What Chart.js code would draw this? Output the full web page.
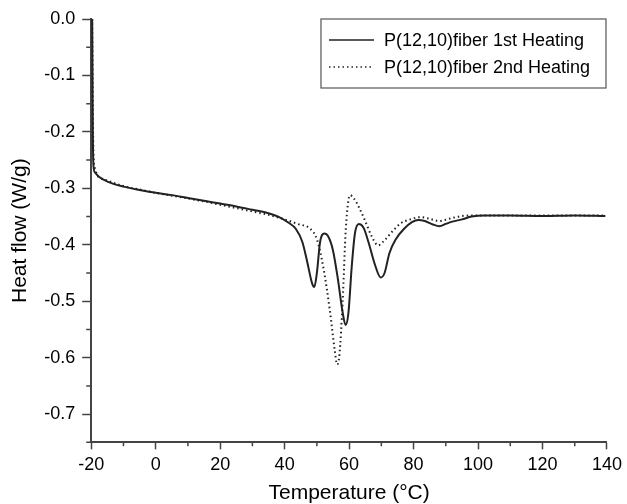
<!DOCTYPE html>
<html lang="en">
<head>
    <meta charset="UTF-8">
    <title>DSC Heat Flow</title>
    <script src="https://cdn.jsdelivr.net/npm/chart.js"></script>
    <style>
        body {
            margin: 0;
            background: #fff;
        }
        .chart-container {
            width: 627px;
            height: 504px;
        }
    </style>
</head>
<body>
    <div class="chart-container">
        <canvas id="dscChart"></canvas>
    </div>

    <script>
        // 1st heating
        const temp1 = [-19.7, -19.6, -19.5, -19.3, -18.8, -17.5, -15, -10, -5, 0, 5, 10, 15, 20, 25, 30, 35, 38, 41, 43.5,
            45.5, 47, 48.5, 49.2, 50, 51, 52.3, 53.5, 55, 56.5, 58, 58.9, 59.8, 60.8, 61.8, 63, 64.5, 66, 68, 69.8,
            71, 72.5, 74.5, 77, 79.5, 81.5, 83.5, 86, 88, 90, 92, 95, 98, 102, 110, 120, 130, 139.5];
        const flow1 = [0.0, -0.1, -0.2, -0.26, -0.272, -0.28, -0.288, -0.297, -0.303, -0.308, -0.312, -0.317, -0.322, -0.327, -0.332, -0.338, -0.344, -0.35, -0.36, -0.372,
            -0.395, -0.43, -0.468, -0.475, -0.45, -0.395, -0.38, -0.385, -0.41, -0.46, -0.52, -0.542, -0.52, -0.44, -0.38, -0.363, -0.37, -0.395, -0.435, -0.458,
            -0.45, -0.415, -0.39, -0.372, -0.36, -0.356, -0.358, -0.364, -0.367, -0.363, -0.359, -0.355, -0.35, -0.348, -0.348, -0.349, -0.348, -0.349];

        // 2nd heating
        const temp2 = [-19.7, -19.5, -19.3, -18.8, -18, -16, -10, -5, 0, 5, 10, 15, 20, 25, 30, 35, 40, 44, 48, 50,
            52, 54, 55.5, 56.3, 57, 58, 59, 60.3, 61.5, 63, 65, 67, 69, 71, 73.5, 76, 79, 82, 85, 88,
            91, 95, 100, 110, 120, 130, 139.5];
        const flow2 = [0.0, -0.15, -0.24, -0.265, -0.278, -0.284, -0.296, -0.302, -0.308, -0.313, -0.318, -0.323, -0.329, -0.335, -0.341, -0.347, -0.355, -0.363, -0.372, -0.39,
            -0.44, -0.515, -0.585, -0.612, -0.595, -0.5, -0.37, -0.312, -0.318, -0.333, -0.358, -0.385, -0.401, -0.392, -0.376, -0.362, -0.355, -0.351, -0.354, -0.358,
            -0.354, -0.349, -0.348, -0.348, -0.348, -0.348, -0.348];

        const labels = ['P(12,10)fiber 1st Heating', 'P(12,10)fiber 2nd Heating'];
        const yTicks = [-0.7, -0.6, -0.5, -0.4, -0.3, -0.2, -0.1, 0];

        const toPoints = (xs, ys) => xs.map((x, i) => ({ x: x, y: ys[i] }));
        const FONT = 'Liberation Sans, Arial, sans-serif';

        // minor tick marks on both axes
        const minorTicks = {
            id: 'minorTicks',
            afterDraw(chart) {
                const ctx = chart.ctx;
                const xs = chart.scales.x, ys = chart.scales.y;
                ctx.save();
                ctx.strokeStyle = '#444';
                ctx.lineWidth = 1.5;
                ctx.beginPath();
                for (let t = -20; t <= 140; t += 10) {
                    if (t % 20 === 0) continue;
                    const px = xs.getPixelForValue(t);
                    ctx.moveTo(px, ys.bottom);
                    ctx.lineTo(px, ys.bottom + 4);
                }
                for (let k = -15; k <= 0; k++) {
                    if (k % 2 === 0) continue;
                    const py = ys.getPixelForValue(k * 0.05);
                    ctx.moveTo(xs.left, py);
                    ctx.lineTo(xs.left - 5, py);
                }
                ctx.stroke();
                ctx.restore();
            }
        };

        // boxed legend in the top right corner
        const boxLegend = {
            id: 'boxLegend',
            afterDraw(chart) {
                const ctx = chart.ctx;
                const area = chart.chartArea;
                const right = area.right - 1, top = area.top;
                const left = right - 285, h = 69;
                ctx.save();
                ctx.strokeStyle = '#555';
                ctx.lineWidth = 1.2;
                ctx.strokeRect(left, top, right - left, h);
                ctx.font = '18px ' + FONT;
                ctx.textBaseline = 'middle';
                chart.data.datasets.forEach((ds, i) => {
                    const y = top + 21 + i * 27;
                    ctx.strokeStyle = ds.borderColor;
                    ctx.lineWidth = 1.5;
                    ctx.setLineDash(ds.borderDash || []);
                    ctx.beginPath();
                    ctx.moveTo(left + 8, y);
                    ctx.lineTo(left + 53, y);
                    ctx.stroke();
                    ctx.setLineDash([]);
                    ctx.fillStyle = '#000';
                    ctx.fillText(ds.label, left + 63, y + 1);
                });
                ctx.restore();
            }
        };

        const ctx = document.getElementById('dscChart').getContext('2d');
        new Chart(ctx, {
            type: 'line',
            data: {
                datasets: [
                    {
                        label: labels[0],
                        data: toPoints(temp1, flow1),
                        borderColor: '#222',
                        borderWidth: 2,
                        pointRadius: 0,
                        cubicInterpolationMode: 'monotone',
                        fill: false
                    },
                    {
                        label: labels[1],
                        data: toPoints(temp2, flow2),
                        borderColor: '#222',
                        borderWidth: 2,
                        borderDash: [1.5, 3],
                        pointRadius: 0,
                        cubicInterpolationMode: 'monotone',
                        fill: false
                    }
                ]
            },
            options: {
                responsive: true,
                maintainAspectRatio: false,
                animation: false,
                layout: {
                    autoPadding: false,
                    padding: { top: 19, right: 19, left: 4, bottom: 0 }
                },
                plugins: {
                    legend: { display: false },
                    tooltip: { enabled: false }
                },
                scales: {
                    x: {
                        type: 'linear',
                        min: -20,
                        max: 140,
                        border: { color: '#444', width: 2 },
                        grid: { drawOnChartArea: false, tickLength: 7, color: '#444', tickWidth: 1.5 },
                        ticks: { stepSize: 20, color: '#000', font: { family: FONT, size: 18 }, padding: 5, maxRotation: 0 },
                        title: { display: true, text: 'Temperature (°C)', color: '#000', font: { family: FONT, size: 21, lineHeight: 1.05 }, padding: { top: 1, bottom: 0 } }
                    },
                    y: {
                        min: -0.75,
                        max: 0,
                        border: { color: '#444', width: 2 },
                        grid: { drawOnChartArea: false, tickLength: 9, color: '#444', tickWidth: 1.5 },
                        afterBuildTicks: (axis) => {
                            axis.ticks = yTicks.map(v => ({ value: v }));
                        },
                        ticks: {
                            color: '#000',
                            font: { family: FONT, size: 18 },
                            padding: 7,
                            callback: (v) => v.toFixed(1)
                        },
                        title: { display: true, text: 'Heat flow (W/g)', color: '#000', font: { family: FONT, size: 21 }, padding: { top: 4, bottom: 4 } }
                    }
                }
            },
            plugins: [minorTicks, boxLegend]
        });
    </script>
</body>
</html>
